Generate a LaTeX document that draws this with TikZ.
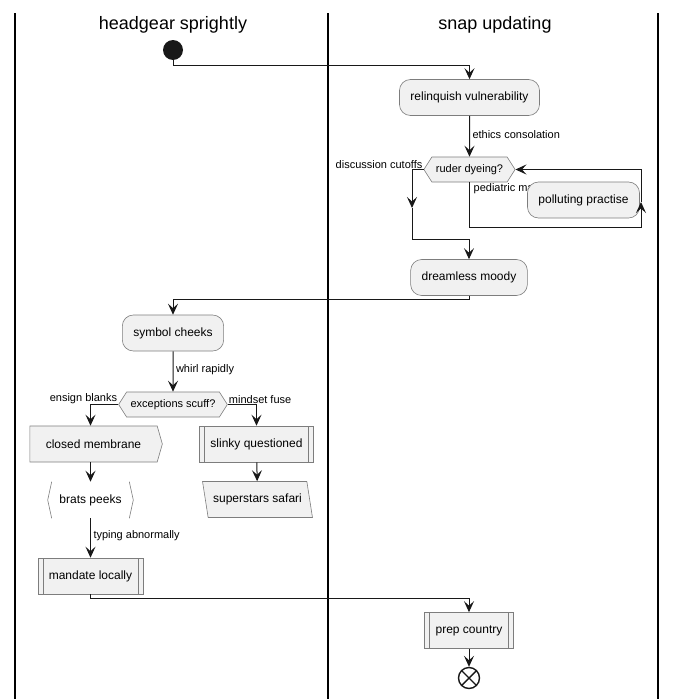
\documentclass[tikz,border=0pt]{standalone}
\usepackage{fontspec}
\setmainfont{Liberation Sans}
\usetikzlibrary{arrows.meta, shapes.geometric, shapes.symbols}
\definecolor{actfill}{RGB}{241, 241, 241}
\definecolor{actline}{RGB}{125, 125, 125}
\definecolor{flowline}{RGB}{24, 24, 24}
\tikzset{
    actnode/.style={draw=actline, fill=actfill, line width=0.6pt, minimum height=36pt, inner xsep=11pt, font=\fontsize{12}{14}\selectfont},
    roundact/.style={actnode, rectangle, rounded corners=11pt},
    subact/.style={actnode, rectangle, path picture={
        \draw[actline, line width=0.6pt] ([xshift=5pt]path picture bounding box.north west) -- ([xshift=5pt]path picture bounding box.south west)
            ([xshift=-5pt]path picture bounding box.north east) -- ([xshift=-5pt]path picture bounding box.south east);}},
    sendact/.style={actnode, signal, signal to=east, signal pointer angle=148, inner xsep=16pt},
    recvact/.style={actnode, draw=none, fill=none, rectangle, minimum width=85pt},
    inputact/.style={actnode, trapezium, trapezium left angle=107.5, trapezium right angle=72.5, trapezium stretches=true, inner xsep=5pt, minimum width=101pt},
    choice/.style={draw=actline, fill=actfill, line width=0.6pt, signal, signal to=west and east, signal pointer angle=115, minimum height=25pt, inner xsep=4pt, font=\fontsize{11}{13}\selectfont},
    lanetitle/.style={font=\fontsize{18}{21}\selectfont},
    flowlbl/.style={font=\fontsize{11}{13}\selectfont, inner sep=2.5pt},
    lane/.style={draw=black, line width=1.5pt},
    conn/.style={draw=flowline, line width=1pt},
    flow/.style={conn, -{Stealth[length=11pt, width=10pt, inset=4.5pt]}},
    startdot/.style={circle, fill=flowline, minimum size=20pt, inner sep=0pt},
    stopdot/.style={circle, draw=flowline, fill=white, line width=1.4pt, minimum size=21pt, inner sep=0pt, path picture={
        \draw[flowline, line width=1.4pt] (path picture bounding box.north west) -- (path picture bounding box.south east)
            (path picture bounding box.south west) -- (path picture bounding box.north east);}}
}

\begin{document}
\begin{tikzpicture}[x=1pt, y=-1pt]
    \useasboundingbox (0,0) rectangle (678,699);
    \draw[lane] (15,13) -- (15,699);
    \draw[lane] (328,13) -- (328,699);
    \draw[lane] (658,13) -- (658,699);
    \node[lanetitle] (laneone) at (173,25) {headgear sprightly};
    \node[lanetitle] (lanetwo) at (495,25) {snap updating};

    \node[startdot] (start) at (173,50) {};
    \node[roundact] (relinquish) at (469.5,97.5) {relinquish vulnerability};
    \node[choice] (ruder) at (469.5,169.5) {ruder dyeing?};
    \node[flowlbl, anchor=north west, inner sep=1pt] (pediatric) at ([xshift=3pt]ruder.south) {pediatric ma};
    \node[roundact] (polluting) at (583.5,200) {polluting practise};
    \node[roundact] (dreamless) at (469,277.5) {dreamless moody};
    \node[roundact] (symbol) at (173,333) {symbol cheeks};
    \node[choice] (exceptions) at (173,404.5) {exceptions scuff?};
    \node[sendact] (closed) at (93.5,444) {closed membrane};
    \node[subact] (slinky) at (256.5,444) {slinky questioned};
    \node[recvact] (brats) at (90.5,500) {brats peeks};
    \node[inputact] (safari) at (257.5,499.5) {superstars safari};
    \node[subact] (mandate) at (90.5,576) {mandate locally};
    \node[subact] (prep) at (469,630.5) {prep country};
    \node[stopdot] (stop) at (469,678) {};

    \draw[actline, line width=0.6pt] ([xshift=4pt]brats.north west) -- (brats.west) -- ([xshift=4pt]brats.south west);
    \draw[actline, line width=0.6pt] ([xshift=-4pt]brats.north east) -- (brats.east) -- ([xshift=-4pt]brats.south east);

    \coordinate (cutdown) at (412,208);
    \coordinate (merge) at (469,239);
    \coordinate (loopcorner) at (641,227);
    \coordinate (loopup) at (641,202);

    \draw[flow] (start.south) -- ++(0,5) -| (relinquish.north);
    \draw[flow] (relinquish) -- node[flowlbl, right, pos=0.45] {ethics consolation} (ruder);
    \node[flowlbl, anchor=south east, inner sep=1pt] at (ruder.west) {discussion cutoffs};
    \draw[flow] (ruder.west) -| (cutdown);
    \draw[conn] (cutdown) |- (merge);
    \draw[flow] (merge) -- (dreamless.north);
    \draw[flow] (ruder.south) |- (loopcorner) -- (loopup);
    \draw[flow] (loopup) |- (ruder.east);
    \draw[flow] (dreamless.south) -- ++(0,4) -| (symbol.north);
    \draw[flow] (symbol) -- node[flowlbl, right, pos=0.45] {whirl rapidly} (exceptions);
    \node[flowlbl, anchor=south east, inner sep=1pt] at (exceptions.west) {ensign blanks};
    \node[flowlbl, anchor=south west, inner sep=1pt] at (exceptions.east) {mindset fuse};
    \draw[flow] (exceptions.west) -| (brats.north |- closed.north);
    \draw[flow] (exceptions.east) -| (slinky.north);
    \draw[flow] (brats.north |- closed.south) -- (brats.north);
    \draw[flow] (slinky) -- (safari);
    \draw[flow] (brats) -- node[flowlbl, right, pos=0.45] {typing abnormally} (mandate);
    \draw[flow] (mandate.south) -- ++(0,4) -| (prep.north);
    \draw[flow] (prep) -- (stop);
\end{tikzpicture}
\end{document}
